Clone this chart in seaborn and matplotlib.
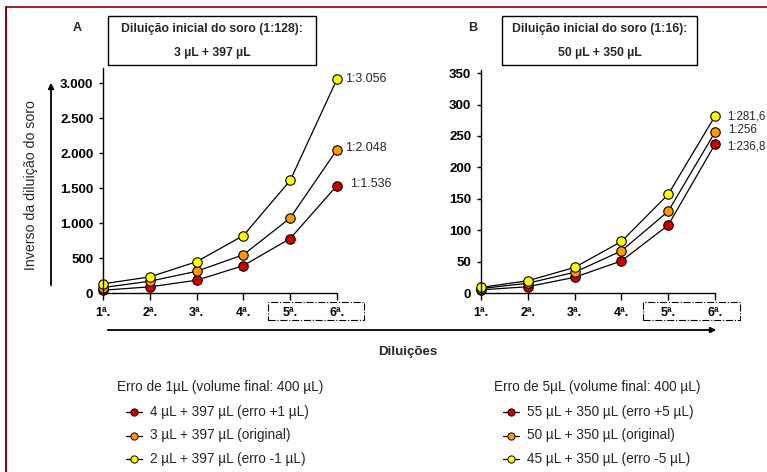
import matplotlib
matplotlib.use("Agg")
import matplotlib.pyplot as plt
import pandas as pd
import seaborn as sns
from matplotlib.lines import Line2D
from matplotlib.patches import Rectangle, FancyArrowPatch

# Serial dilutions on the x axis
categories = ["1ª.", "2ª.", "3ª.", "4ª.", "5ª.", "6ª."]

# Panel A: initial dilution 3 µL + 397 µL (1:128), 1 µL pipetting error
a_red = [40, 88, 182, 391, 778, 1536]
a_orange = [78, 168, 310, 547, 1072, 2048]
a_yellow = [131, 230, 447, 821, 1608, 3056]
a_end_labels = ["1:1.536", "1:2.048", "1:3.056"]
a_yticks = [0, 500, 1000, 1500, 2000, 2500, 3000]
a_yticklabels = ["0", "500", "1.000", "1.500", "2.000", "2.500", "3.000"]

# Panel B: initial dilution 50 µL + 350 µL (1:16), 5 µL pipetting error
b_red = [5, 10, 25, 51, 108, 236.8]
b_orange = [7, 15.6, 33, 67, 130, 256]
b_yellow = [8.8, 19.5, 40.7, 82, 157, 281.6]
b_end_labels = ["1:236,8", "1:256", "1:281,6"]
b_yticks = [0, 50, 100, 150, 200, 250, 300, 350]
b_yticklabels = ["0", "50", "100", "150", "200", "250", "300", "350"]

legend_a_title = "Erro de 1µL (volume final: 400 µL)"
legend_a = ["4 µL + 397 µL (erro +1 µL)", "3 µL + 397 µL (original)", "2 µL + 397 µL (erro -1 µL)"]
legend_b_title = "Erro de 5µL (volume final: 400 µL)"
legend_b = ["55 µL + 350 µL (erro +5 µL)", "50 µL + 350 µL (original)", "45 µL + 350 µL (erro -5 µL)"]

colors = ["#CC0000", "#FF9900", "#FFFF00"]

sns.set_style("ticks")
plt.rcParams["font.family"] = ["Liberation Sans", "DejaVu Sans"]

W, H = 767, 472
fig = plt.figure(figsize=(W / 100, H / 100), dpi=100)


def fx(x):
    return x / W


def fy(y):
    return 1 - y / H


def panel(box, ylim, yticks, yticklabels, series, end_labels, label_offsets, label_size):
    left, top, right, bottom = box
    ax = fig.add_axes([fx(left), fy(bottom), (right - left) / W, (bottom - top) / H])
    for vals, color in zip(series, colors):
        df = pd.DataFrame({"pos": range(len(categories)), "val": vals})
        sns.lineplot(data=df, x="pos", y="val", ax=ax, color="black", lw=0.9,
                     marker="o", markersize=6.8, markerfacecolor=color,
                     markeredgecolor="black", markeredgewidth=0.8, clip_on=False)
    for vals, text, off in zip(series, end_labels, label_offsets):
        ax.annotate(text, (len(categories) - 1, vals[-1]), xytext=off,
                    textcoords="offset pixels", fontsize=label_size, va="center", ha="left",
                    annotation_clip=False)
    ax.set_xlim(0, len(categories) - 1)
    ax.set_ylim(*ylim)
    ax.set_xticks(range(len(categories)))
    ax.set_xticklabels(categories, fontweight="bold", fontsize=9)
    ax.set_yticks(yticks)
    ax.set_yticklabels(yticklabels, fontweight="bold", fontsize=9.5)
    ax.set_xlabel("")
    ax.set_ylabel("")
    for s in ("top", "right"):
        ax.spines[s].set_visible(False)
    for s in ("left", "bottom"):
        ax.spines[s].set_color("black")
        ax.spines[s].set_linewidth(1.0)
    ax.tick_params(axis="x", length=5, width=1, pad=5, colors="black")
    ax.tick_params(axis="y", length=3, width=1, pad=4, colors="black")
    ax.set_facecolor("none")
    return ax


panel((103, 68, 337, 293), (0, 3215), a_yticks, a_yticklabels,
      [a_red, a_orange, a_yellow], a_end_labels, [(13, 2), (8, 2), (8, 0)], 9)
panel((481, 70, 715, 293), (0, 355), b_yticks, b_yticklabels,
      [b_red, b_orange, b_yellow], b_end_labels, [(12, -2), (13, 2), (12, 0)], 8.3)

# Title boxes above each panel
for (l, t, r, b), lines in [((108, 16, 316, 65), ["Diluição inicial do soro (1:128):", "3 µL + 397 µL"]),
                            ((502, 16, 697, 65), ["Diluição inicial do soro (1:16):", "50 µL + 350 µL"])]:
    fig.add_artist(Rectangle((fx(l), fy(b)), (r - l) / W, (b - t) / H, transform=fig.transFigure,
                             fill=False, edgecolor="black", lw=1.0))
    cx = (l + r) / 2
    fig.text(fx(cx), fy(29), lines[0], ha="center", va="center", fontsize=8.85, fontweight="bold")
    fig.text(fx(cx), fy(53), lines[1], ha="center", va="center", fontsize=8.85, fontweight="bold")

fig.text(fx(77), fy(28), "A", ha="center", va="center", fontsize=9, fontweight="bold")
fig.text(fx(473), fy(28), "B", ha="center", va="center", fontsize=9, fontweight="bold")

# Dash-dot frames around the last two dilutions
for l, r in [(268, 364), (643, 740)]:
    fig.add_artist(Rectangle((fx(l), fy(320)), (r - l) / W, 18 / H, transform=fig.transFigure,
                             fill=False, edgecolor="black", lw=0.8, linestyle="-."))

# Axis arrows
fig.add_artist(FancyArrowPatch((fx(51), fy(288)), (fx(51), fy(80)),
                               transform=fig.transFigure, arrowstyle="-|>",
                               mutation_scale=8, lw=1.3, color="black"))
fig.add_artist(FancyArrowPatch((fx(105), fy(330)), (fx(719), fy(330)),
                               transform=fig.transFigure, arrowstyle="-|>",
                               mutation_scale=8, lw=1.3, color="black"))
fig.text(fx(31), fy(185), "Inverso da diluição do soro", rotation=90, ha="center", va="center",
         fontsize=10.2)
fig.text(fx(408), fy(352), "Diluições", ha="center", va="center", fontsize=9.6, fontweight="bold")

# Legends
for x0, title, entries in [(117, legend_a_title, legend_a), (494, legend_b_title, legend_b)]:
    fig.text(fx(x0), fy(387), title, ha="left", va="center", fontsize=9.8)
    for i, (text, color) in enumerate(zip(entries, colors)):
        y = 412 + 23.5 * i
        fig.add_artist(Line2D([fx(x0 + 9), fx(x0 + 25)], [fy(y), fy(y)], transform=fig.transFigure,
                              color="black", lw=0.9))
        fig.add_artist(Line2D([fx(x0 + 17)], [fy(y)], transform=fig.transFigure, marker="o",
                              markersize=5.2, markerfacecolor=color, markeredgecolor="black",
                              markeredgewidth=0.7, lw=0))
        fig.text(fx(x0 + 33), fy(y), text, ha="left", va="center", fontsize=9.8)

# Dark red frame on the top and left edges
fig.add_artist(Line2D([fx(6), fx(767)], [fy(7), fy(7)], transform=fig.transFigure, color="#8B0000", lw=1.2))
fig.add_artist(Line2D([fx(6), fx(6)], [fy(7), fy(472)], transform=fig.transFigure, color="#8B0000", lw=1.4))

fig.savefig("out.png", dpi=100)
